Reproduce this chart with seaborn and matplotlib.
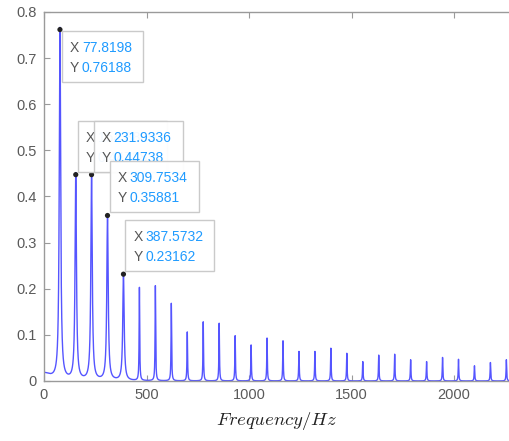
import numpy as np
import matplotlib
matplotlib.use('Agg')
import matplotlib.pyplot as plt
import seaborn as sns
from matplotlib.patches import Rectangle
from matplotlib.transforms import IdentityTransform

# ---- data ----
peak_freq = [77.82, 154.88, 231.93, 309.75, 387.57, 465.39, 543.21, 621.03, 698.85,
             776.67, 854.49, 932.31, 1010.13, 1087.95, 1165.77, 1243.59, 1321.41,
             1399.23, 1477.05, 1554.87, 1632.69, 1710.51, 1788.33, 1866.15, 1943.97,
             2021.79, 2099.61, 2177.43, 2255.25]
peak_amp = [0.76188, 0.4474, 0.44738, 0.35881, 0.23162, 0.2017, 0.206, 0.168, 0.106,
            0.128, 0.125, 0.098, 0.078, 0.093, 0.087, 0.064, 0.064,
            0.071, 0.060, 0.042, 0.056, 0.058, 0.046, 0.042, 0.051,
            0.047, 0.033, 0.040, 0.046]
dc_level = 0.016

tip_x = [77.8198, 154.88, 231.9336, 309.7534, 387.5732]
tip_y = [0.76188, 0.44738, 0.44738, 0.35881, 0.23162]
tip_xlabels = ['77.8198', '154.8800', '231.9336', '309.7534', '387.5732']
tip_ylabels = ['0.76188', '0.44738', '0.44738', '0.35881', '0.23162']
tip_below = [True, False, False, False, False]

xticks = [0, 500, 1000, 1500, 2000]
yticks = [0, 0.1, 0.2, 0.3, 0.4, 0.5, 0.6, 0.7, 0.8]
xlabel = r'$Frequency/Hz$'

# ---- spectrum line built from the peak table ----
W, H = 510, 441
xmax = 2273
f = np.union1d(np.linspace(0, xmax, 12000), peak_freq)
g0 = 40.0
spec = dc_level * g0**2 / (f**2 + g0**2)
for fk, ak in zip(peak_freq, peak_amp):
    g = 4.0 if fk < 420 else 1.6
    spec = spec + ak * g**2 / ((f - fk)**2 + g**2)

sns.set_theme(style='ticks')
plt.rcParams['font.family'] = ['Liberation Sans', 'DejaVu Sans']
plt.rcParams['mathtext.fontset'] = 'cm'

fig = plt.figure(figsize=(W / 100, H / 100), dpi=100)
ax = fig.add_axes([44 / W, 60 / H, (W - 44) / W, 369 / H])

sns.lineplot(x=f, y=spec, ax=ax, color='#5555ff', lw=1.0, estimator=None, sort=False)

ax.set_xlim(0, xmax)
ax.set_ylim(0, 0.8)
ax.set_xticks(xticks)
ax.set_xticklabels([str(t) for t in xticks])
ax.set_yticks(yticks)
ax.set_yticklabels(['0' if t == 0 else f'{t:.1f}' for t in yticks])
ax.tick_params(direction='in', length=4, width=0.8, top=True, right=False,
               color='#9a9a9a', labelcolor='#5a5a5a', labelsize=10.5, pad=5)
for s in ['left', 'bottom', 'top']:
    ax.spines[s].set_color('#9a9a9a')
    ax.spines[s].set_linewidth(1.0)
ax.spines['right'].set_visible(False)
ax.set_xlabel(xlabel, fontsize=13.5, color='#222222', labelpad=6)
ax.set_ylabel('')

# ---- data tips ----
sns.scatterplot(x=tip_x, y=tip_y, ax=ax, color='#222222', s=14, zorder=20,
                edgecolor='none', clip_on=False)

for i, (tx, ty) in enumerate(zip(tip_x, tip_y)):
    px, py = ax.transData.transform((tx, ty))
    w = 25 + 8 * len(tip_xlabels[i])
    h = 51
    left = px + 2
    if tip_below[i]:
        top = py - 1
    else:
        top = py + 3 + h
    z = 10 + i
    rect = Rectangle((left, top - h), w, h, transform=IdentityTransform(),
                     facecolor='white', edgecolor='#c8c8c8', lw=1.0, alpha=0.95,
                     zorder=z)
    fig.add_artist(rect)
    for row, (lab, val) in enumerate([('X', tip_xlabels[i]), ('Y', tip_ylabels[i])]):
        yy = top - 17 - 20 * row
        fig.text(left + 8, yy, lab, transform=IdentityTransform(), color='#555555',
                 fontsize=10, va='center', ha='left', zorder=z + 0.5)
        fig.text(left + 20, yy, val, transform=IdentityTransform(), color='#1f9bff',
                 fontsize=10, va='center', ha='left', zorder=z + 0.5)

fig.savefig('out.png', dpi=100)
